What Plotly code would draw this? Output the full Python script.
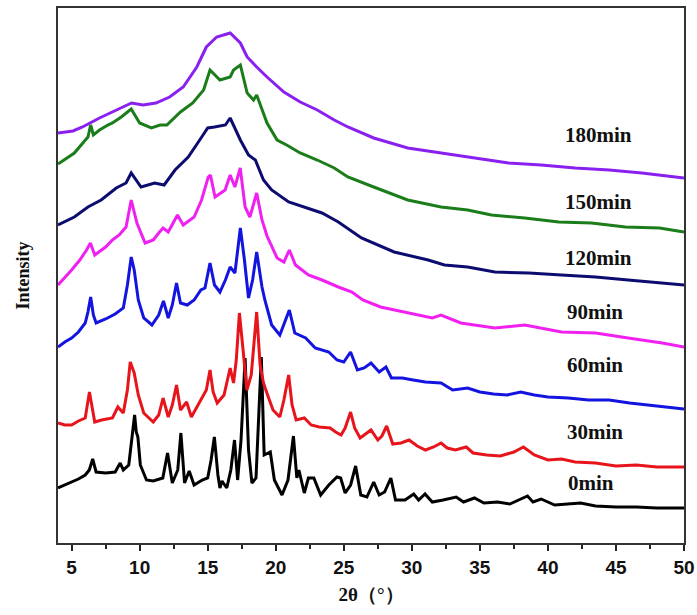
import plotly.graph_objects as go

# 2theta (deg) and intensity (a.u.)
x_0 = [4.0,4.5,5.0,5.5,6.0,6.3,6.55,6.8,7.5,8.2,8.57,8.8,9.2,9.4,9.63,9.75,9.87,10.05,10.5,11.0,11.7,12.05,12.4,12.8,13.03,13.3,13.64,14.0,14.6,15.0,15.25,15.49,15.75,15.9,16.05,16.4,16.7,16.97,17.2,17.45,17.75,18.0,18.25,18.55,18.75,18.94,19.15,19.6,19.9,20.46,20.9,21.3,21.55,21.7,22.1,22.4,22.8,23.3,23.9,24.5,24.77,25.1,25.5,25.87,26.25,26.7,27.2,27.6,28.0,28.46,28.8,29.5,30.14,30.5,30.97,31.5,32.3,33.26,33.8,34.6,35.3,36.3,37.2,38.5,38.9,39.5,40.5,41.5,42.4,43.5,45.0,46.5,48.0,50.0]
y_0 = [55,58,61,64,68,73,84,71,70,71,80,73,78,103,128,111,106,78,63,62,65,90,60,73,110,60,72,58,63,65,83,106,68,55,62,55,73,103,63,103,185,93,60,65,123,186,88,91,63,48,63,107,65,73,50,65,65,48,58,66,65,50,58,77,48,46,61,48,51,65,43,43,49,43,49,41,43,46,41,45,40,41,39,47,41,44,38,39,40,37,36,36,35,35]

x_30 = [4.0,4.5,5.0,5.5,6.0,6.31,6.7,7.2,8.0,8.4,8.8,9.1,9.31,9.6,9.9,10.3,11.0,11.4,11.72,12.1,12.4,12.71,13.0,13.45,13.8,14.5,14.9,15.17,15.4,15.7,16.2,16.65,16.9,17.1,17.33,17.6,17.88,18.2,18.6,18.85,19.1,19.4,19.8,20.3,20.6,20.95,21.2,21.5,22.1,22.6,23.2,24.0,24.4,24.8,25.1,25.5,25.8,26.2,26.6,27.0,27.5,27.8,28.15,28.6,29.2,29.8,30.4,31.0,31.6,32.15,32.6,33.2,34.0,34.5,35.5,36.5,37.5,38.2,39.0,40.0,41.0,42.0,43.5,45.0,46.5,48.0,50.0]
y_30 = [120,118,118,122,125,151,121,123,125,136,130,153,181,170,148,130,121,128,145,126,138,158,133,141,126,143,153,173,151,140,148,175,160,183,230,193,153,168,231,178,160,148,133,126,143,168,138,123,125,118,116,115,111,108,115,131,115,105,109,113,103,107,117,99,100,103,97,93,96,100,95,93,96,90,88,87,91,96,88,83,84,81,80,77,78,76,76]

x_60 = [4.0,4.5,5.0,5.5,6.0,6.2,6.4,6.6,6.8,7.5,8.2,8.8,9.1,9.38,9.6,9.9,10.3,10.9,11.4,11.75,12.1,12.4,12.71,13.0,13.5,14.0,14.5,14.8,15.17,15.5,15.9,16.3,16.65,17.0,17.4,17.7,18.0,18.3,18.6,18.99,19.2,19.7,20.3,20.6,21.0,21.4,22.2,22.9,23.9,24.5,25.0,25.5,26.0,26.5,27.0,27.6,28.1,28.5,29.3,30.1,31.0,32.15,33.0,34.1,35.0,36.0,37.0,38.0,39.0,40.0,41.5,43.0,44.5,46.0,48.0,50.0]
y_60 = [196,201,205,211,220,231,246,228,220,224,229,235,258,286,273,243,225,218,228,242,225,238,260,240,238,243,253,255,280,258,251,263,276,270,315,283,245,263,291,256,243,218,208,218,233,210,205,195,191,183,181,191,173,175,180,171,176,165,165,163,161,160,153,155,151,149,148,151,148,146,145,143,143,140,137,134]

x_90 = [4.0,4.5,5.0,5.6,6.1,6.38,6.7,7.5,8.0,8.5,9.0,9.38,9.8,10.4,11.0,11.4,11.72,12.1,12.78,13.2,14.0,14.55,15.04,15.2,15.54,16.28,16.65,17.0,17.39,17.75,18.1,18.6,18.99,19.36,20.1,20.6,21.0,21.45,22.4,23.4,24.6,25.6,26.4,27.7,29.9,31.5,32.15,33.6,36.1,38.3,41.0,43.5,45.9,48.4,50.0]
y_90 = [258,265,273,283,293,300,288,296,303,308,316,343,320,300,303,310,315,311,328,318,326,343,366,368,346,353,368,356,375,336,326,350,323,307,285,281,293,278,268,263,256,251,243,236,230,225,228,220,215,218,211,210,205,200,196]

x_120 = [4.0,5.2,6.2,7.17,8.28,9.0,9.38,10.1,11.1,11.8,12.6,13.57,14.56,15.0,15.5,16.3,16.65,17.0,17.4,18.0,18.5,19.1,19.7,20.95,22.2,23.4,24.6,26.3,28.7,31.2,32.4,34.1,36.1,38.6,41.0,43.5,45.9,48.4,50.0]
y_120 = [318,326,336,343,355,360,370,356,360,358,373,386,406,415,416,418,425,415,403,388,383,363,353,341,335,330,321,305,291,283,278,276,271,270,268,266,263,260,258]

x_150 = [4.0,5.2,6.2,6.4,6.6,7.05,7.66,8.0,8.65,9.38,10.0,10.86,11.5,12.0,13.0,13.9,14.7,15.17,15.9,16.65,16.9,17.4,17.9,18.37,18.6,19.0,19.36,20.1,20.8,21.8,23.05,24.3,25.3,27.2,28.2,29.7,32.15,34.1,35.85,38.3,40.8,43.2,45.7,48.2,50.0]
y_150 = [379,390,406,418,408,413,418,420,426,434,420,415,418,418,431,440,453,473,463,466,473,478,450,443,448,433,420,403,398,390,383,375,366,356,351,343,336,333,328,325,321,320,316,315,311]

x_180 = [4.0,5.1,5.8,7.05,8.3,9.4,10.25,11.2,12.2,13.2,14.2,14.9,15.66,16.65,17.4,17.9,18.6,19.36,20.6,21.8,23.05,24.3,25.3,27.2,29.7,32.15,34.6,37.1,39.5,42.0,44.5,46.9,50.0]
y_180 = [410,412,416,425,433,440,438,440,446,456,476,496,506,510,500,486,476,466,451,441,433,423,416,405,395,390,385,380,378,375,373,370,365]

series = [
    ("0min", x_0, y_0, "#000000"),
    ("30min", x_30, y_30, "#e8141c"),
    ("60min", x_60, y_60, "#1414e0"),
    ("90min", x_90, y_90, "#f020f0"),
    ("120min", x_120, y_120, "#0c0c70"),
    ("150min", x_150, y_150, "#1a7d1a"),
    ("180min", x_180, y_180, "#8a20f0"),
]
label_pos = {"0min": (43.2, 60), "30min": (43.45, 111), "60min": (43.45, 178),
             "90min": (43.45, 231), "120min": (43.7, 285), "150min": (43.7, 341),
             "180min": (43.7, 408)}

fig = go.Figure()
for name, xs, ys, col in series:
    fig.add_trace(go.Scatter(x=xs, y=ys, mode="lines", name=name,
                             line=dict(color=col, width=3), showlegend=False))
    lx, ly = label_pos[name]
    fig.add_annotation(x=lx, y=ly, text="<b>" + name + "</b>", showarrow=False,
                       font=dict(family="Liberation Serif", size=21, color="#111"),
                       xanchor="center", yanchor="middle")

fig.update_layout(
    width=697, height=615,
    margin=dict(l=58, r=13, t=8, b=72),
    paper_bgcolor="white", plot_bgcolor="white",
    font=dict(family="Liberation Serif", color="#111"),
    xaxis=dict(range=[4, 50], tickvals=[5,10,15,20,25,30,35,40,45,50],
               ticktext=["<b>%d</b>" % v for v in [5,10,15,20,25,30,35,40,45,50]],
               automargin=False,
               ticks="outside", ticklen=6, tickwidth=1.5, tickcolor="#222",
               minor=dict(dtick=2.5, tick0=2.5, ticks="outside", ticklen=4, tickwidth=1.5, tickcolor="#222"),
               showline=True, linecolor="#333", linewidth=1.8, mirror=True,
               showgrid=False, zeroline=False,
               tickfont=dict(family="Liberation Sans", size=19, color="#111"),
               title=dict(text="<b>2θ（°）</b>", font=dict(family="Liberation Serif", size=19), standoff=11)),
    yaxis=dict(range=[0, 535], showticklabels=False, ticks="", automargin=False,
               showline=True, linecolor="#333", linewidth=1.8, mirror=True,
               showgrid=False, zeroline=False,
               title=dict(text="<b>Intensity</b>", font=dict(family="Liberation Serif", size=18), standoff=22)),
)

fig.write_html("out.html", config={"displayModeBar": False},
               post_script="document.body.style.margin='0';document.body.style.overflow='hidden';")
